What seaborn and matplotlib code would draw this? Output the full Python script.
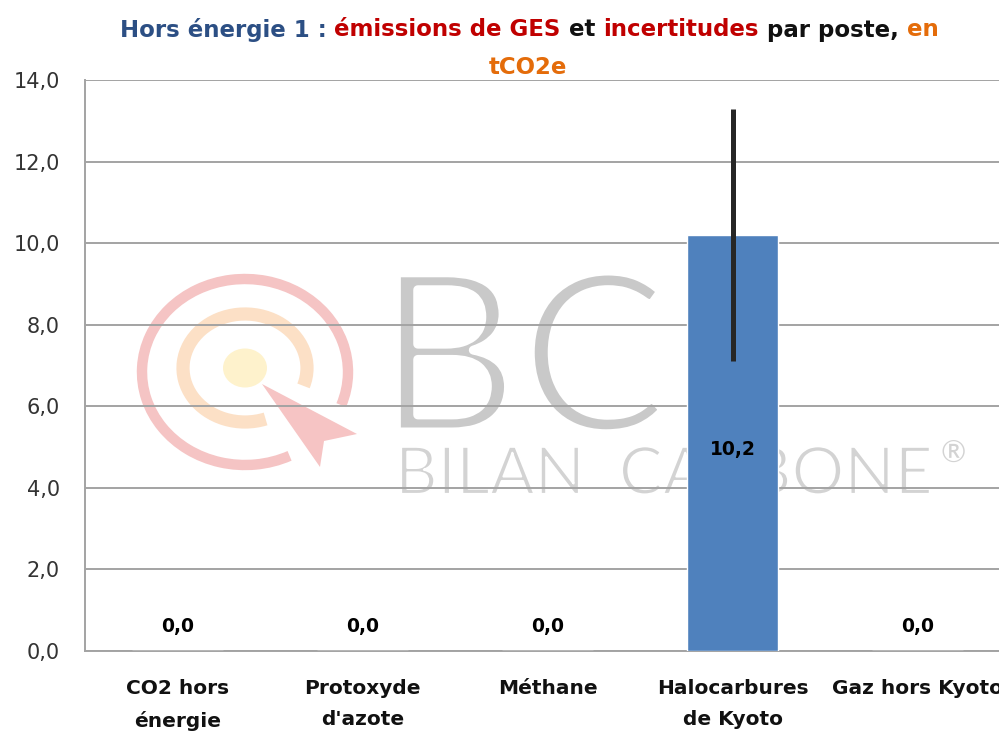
import matplotlib
matplotlib.use("Agg")
import matplotlib.pyplot as plt
import matplotlib.patheffects as pe
from matplotlib.patches import Ellipse, Arc, Polygon
import numpy as np
import pandas as pd
import seaborn as sns

# Données du graphique
categories = ["CO2 hors\nénergie", "Protoxyde\nd'azote", "Méthane",
              "Halocarbures\nde Kyoto", "Gaz hors Kyoto"]
emissions = [0.0, 0.0, 0.0, 10.2, 0.0]
incertitudes = [0.0, 0.0, 0.0, 3.1, 0.0]
yticks = [0, 2, 4, 6, 8, 10, 12, 14]

BAR_COLOR = "#4F81BD"
GRID_COLOR = "#A3A3A3"
H = 734

sns.set_theme(style="white")
plt.rcParams["font.family"] = ["DejaVu Sans"]

df = pd.DataFrame({"poste": categories, "tCO2e": emissions})

fig = plt.figure(figsize=(9.99, 7.34), dpi=100)
fig.patch.set_facecolor("white")
renderer = fig.canvas.get_renderer()

# --- filigrane (logo Bilan Carbone) en arrière-plan, coordonnées en pixels ---
bg = fig.add_axes([0, 0, 1, 1], zorder=0)
bg.set_xlim(0, 999)
bg.set_ylim(0, H)
bg.axis("off")
bg.add_patch(Arc((245, H - 372), 206, 186, theta1=-19, theta2=298,
                 color="#F5C4C4", lw=7.5))
bg.add_patch(Arc((245, H - 368), 124, 108, theta1=-17, theta2=292,
                 color="#FCE0C6", lw=9.5))
bg.add_patch(Ellipse((245, H - 368), 44, 39, color="#FEF2CC", lw=0))
bg.add_patch(Polygon([(262, H - 384), (357, H - 434), (324, H - 441), (320, H - 467)],
                     closed=True, color="#F6C4C4", lw=0))
# trait affiné : on efface le bord des lettres avec un contour blanc
thin_big = [pe.Normal(), pe.Stroke(linewidth=6.5, foreground="white")]
thin_small = [pe.Normal(), pe.Stroke(linewidth=1.6, foreground="white")]
bg.text(376, H - 432, "BC", fontsize=160, color="#C9C9C9", family="Lato",
        va="baseline", ha="left", path_effects=thin_big)
bg.text(395, H - 494, "BILAN  CARBONE", fontsize=47.5, color="#D3D3D3",
        family="Lato", va="baseline", ha="left", path_effects=thin_small)
bg.text(940, H - 463, "®", fontsize=22, color="#D3D3D3", family="Lato",
        va="baseline", ha="left")

# --- graphique principal ---
ax = fig.add_axes([85 / 999, 1 - 651 / H, 925 / 999, (651 - 80) / H], zorder=1)
ax.patch.set_alpha(0)
sns.barplot(data=df, x="poste", y="tCO2e", color=BAR_COLOR, width=0.49,
            saturation=1, errorbar=None, ax=ax, zorder=3)
ax.errorbar(x=np.arange(len(categories)), y=emissions, yerr=incertitudes,
            fmt="none", ecolor="#262626", elinewidth=3.6, capsize=0, zorder=4)

ax.set_xlim(-0.5, len(categories) - 0.5)
ax.set_ylim(0, 14)
ax.set_yticks(yticks)
ax.set_yticklabels([f"{v:.1f}".replace(".", ",") for v in yticks],
                   fontsize=15, color="#333333")
ax.set_xlabel("")
ax.set_ylabel("")
ax.yaxis.grid(True, color=GRID_COLOR, lw=1.4, zorder=1)
ax.set_axisbelow(True)
for side in ["top", "right"]:
    ax.spines[side].set_visible(False)
for side in ["left", "bottom"]:
    ax.spines[side].set_color(GRID_COLOR)
    ax.spines[side].set_linewidth(1.4)
ax.tick_params(axis="y", length=8, width=1.4, color=GRID_COLOR, pad=10)

# ticks de l'axe x aux limites des catégories
ax.set_xticks(np.arange(len(categories) + 1) - 0.5, minor=True)
ax.tick_params(axis="x", which="minor", length=8, width=1.4, color=GRID_COLOR)
ax.tick_params(axis="x", which="major", length=0, pad=20)
ax.set_xticklabels(categories, fontsize=14.5, fontweight="bold",
                   color="#111111", linespacing=1.8)

# étiquettes de données
for i, v in enumerate(emissions):
    txt = f"{v:.1f}".replace(".", ",")
    if v > 0:
        ax.text(i, v / 2 - 0.15, txt, ha="center", va="center", fontsize=13.5,
                fontweight="bold", color="black", zorder=5)
    else:
        ax.text(i, 0.38, txt, ha="center", va="bottom", fontsize=13.5,
                fontweight="bold", color="black", zorder=5)

# --- titre multicolore ---
parts = [("Hors énergie 1 : ", "#2C4F84"), ("émissions de GES", "#C00000"),
         (" et ", "#111111"), ("incertitudes", "#C00000"),
         (" par poste, ", "#111111"), ("en", "#E46C0A")]
texts = []
for s, c in parts:
    t = fig.text(0, 1 - 30 / H, s, color=c, fontsize=16.5, fontweight="bold",
                 va="center", ha="left")
    texts.append(t)
widths = [t.get_window_extent(renderer).width for t in texts]
x = 529 - sum(widths) / 2
for t, w in zip(texts, widths):
    t.set_x(x / 999)
    x += w
fig.text(528 / 999, 1 - 68 / H, "tCO2e", color="#E46C0A", fontsize=16.5,
         fontweight="bold", va="center", ha="center")

fig.savefig("out.png", dpi=100, facecolor="white")
